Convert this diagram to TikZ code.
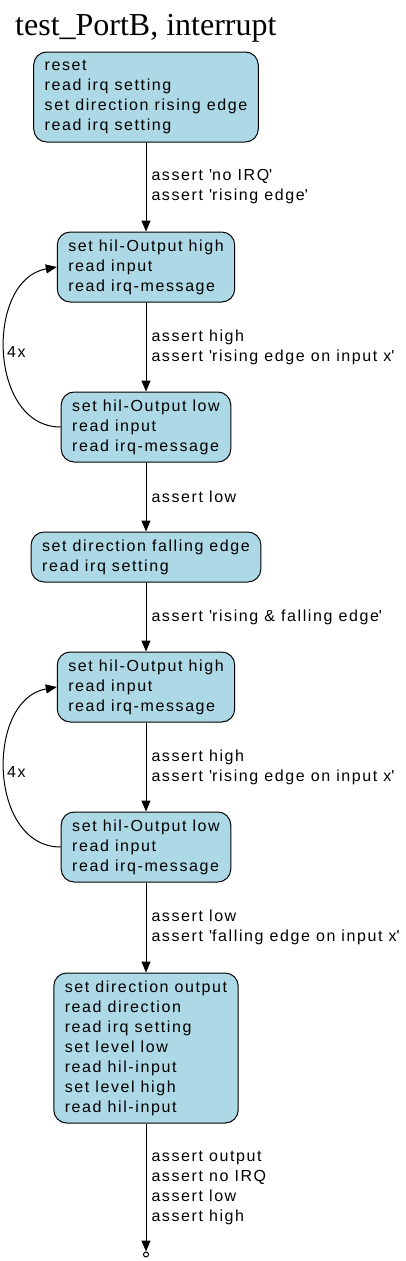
\documentclass[tikz,border=0pt]{standalone}
\usepackage{fontspec}
\usepackage{xcolor}
\usepackage{tikz}
\usetikzlibrary{arrows.meta, positioning}
\newfontfamily\gvsans[LetterSpace=10]{Liberation Sans}
\newfontfamily\gvserif{Liberation Serif}
\definecolor{clrBox}{HTML}{ADD8E6}
\newcommand{\q}{\textquotesingle}
\tikzset{
  stepbox/.style={rectangle, draw=black, fill=clrBox, line width=1pt, rounded corners=13pt, align=left, inner xsep=11pt, inner ysep=0pt, font=\gvsans\fontsize{16}{20}\selectfont},
  nlines/.style={minimum height=20pt*#1+10pt},
  endpt/.style={circle, draw, line width=1pt, fill=white, inner sep=0pt, minimum size=5pt},
  arr/.style={-{Triangle[length=11pt, width=9pt]}, line width=1pt},
  elabel/.style={midway, right, align=left, inner xsep=5pt, font=\gvsans\fontsize{16}{20}\selectfont},
  loopnum/.style={midway, right, inner xsep=2pt, font=\gvsans\fontsize{16}{20}\selectfont},
}
\begin{document}
\begin{tikzpicture}[x=1pt, y=1pt]
  \useasboundingbox (0,0) rectangle (405,-1261);

  % Title
  \node[anchor=base west, inner sep=0pt, font=\gvserif\fontsize{32}{36}\selectfont] (title) at (15,-35) {test\_PortB, interrupt};

  % Steps
  \node[stepbox, nlines=4] (b1) at (146,-97) {reset\\read irq setting\\set direction rising edge\\read irq setting};
  \node[stepbox, nlines=3, below=89pt of b1] (b2) {set hil-Output high\\read input\\read irq-message};
  \node[stepbox, nlines=3, below=89pt of b2] (b3) {set hil-Output low\\read input\\read irq-message};
  \node[stepbox, nlines=2, below=69pt of b3] (b4) {set direction falling edge\\read irq setting};
  \node[stepbox, nlines=3, below=69pt of b4] (b5) {set hil-Output high\\read input\\read irq-message};
  \node[stepbox, nlines=3, below=89pt of b5] (b6) {set hil-Output low\\read input\\read irq-message};
  \node[stepbox, nlines=7, below=90pt of b6] (b7) {set direction output\\read direction\\read irq setting\\set level low\\read hil-input\\set level high\\read hil-input};
  \node[endpt, below=128pt of b7] (fin) {};

  % Transitions
  \draw[arr] (b1) -- (b2) node[elabel] {assert \q no IRQ\q\\assert \q rising edge\q};
  \draw[arr] (b2) -- (b3) node[elabel] {assert high\\assert \q rising edge on input x\q};
  \draw[arr] (b3) -- (b4) node[elabel] {assert low};
  \draw[arr] (b4) -- (b5) node[elabel] {assert \q rising \& falling edge\q};
  \draw[arr] (b5) -- (b6) node[elabel] {assert high\\assert \q rising edge on input x\q};
  \draw[arr] (b6) -- (b7) node[elabel] {assert low\\assert \q falling edge on input x\q};
  \draw[arr] (b7) -- (fin) node[elabel] {assert output\\assert no IRQ\\assert low\\assert high};

  % Repeats
  \draw[arr] (b3.west) to[out=180, in=190, looseness=1.16] node[loopnum] {4x} (b2.west);
  \draw[arr] (b6.west) to[out=180, in=190, looseness=1.16] node[loopnum] {4x} (b5.west);
\end{tikzpicture}
\end{document}
